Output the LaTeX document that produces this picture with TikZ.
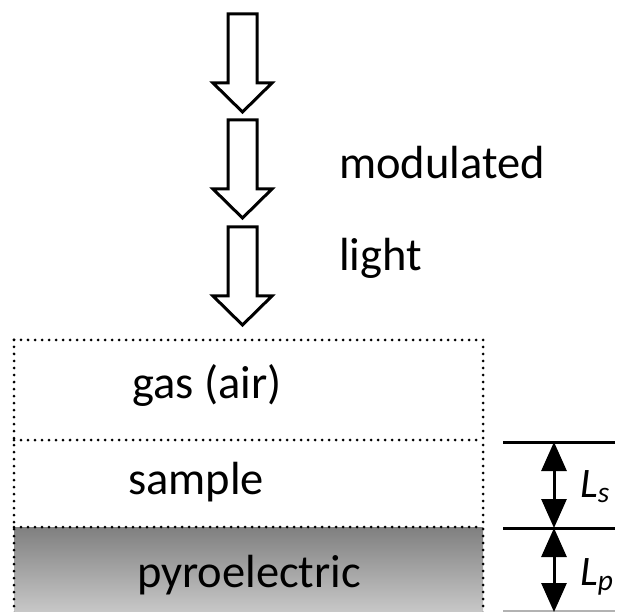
\documentclass[tikz,border=0pt]{standalone}
\usepackage{fontspec}
\setmainfont{Carlito}
\usetikzlibrary{arrows.meta}
\begin{document}
\begin{tikzpicture}[x=1pt,y=-1pt,
  blockarrow/.style={draw=black, line width=3pt, fill=white, line join=miter},
  layer/.style={draw=black, line width=3pt, line cap=round, dash pattern=on 0pt off 7pt},
  lbl/.style={font=\fontsize{46.5}{50}\selectfont, inner sep=0pt},
  dimlbl/.style={font=\fontsize{42}{46}\selectfont\itshape, inner sep=0pt, anchor=base west},
  dimline/.style={line width=3pt},
  dimarrow/.style={line width=3pt, {Triangle[length=29pt,width=25pt]}-{Triangle[length=29pt,width=25pt]}}]
\useasboundingbox (0,0) rectangle (624,612);
% block arrows
\foreach \t in {14,120,227}{
  \draw[blockarrow] (228,\t) -- (257,\t) -- (257,\t+69) -- (272,\t+69) -- (242.5,\t+98) -- (213,\t+69) -- (228,\t+69) -- cycle;
}
\node[lbl, anchor=west] (mod) at (339,163) {modulated};
\node[lbl, anchor=west] (light) at (339,258) {light};
% layers
\shade[top color=black!50, bottom color=black!21] (14,527) rectangle (483,614);
\draw[layer] (14,340) -- (483,340);
\draw[layer] (14,440) -- (483,440);
\draw[layer] (14,527) -- (483,527);
\draw[layer] (14,340) -- (14,614);
\draw[layer] (483,340) -- (483,614);
\node[lbl] (gas) at (207,385) {gas (air)};
\node[lbl] (sample) at (196,482) {sample};
\node[lbl] (pyro) at (249,575) {pyroelectric};
% dimensions
\coordinate (t1) at (554,442);
\coordinate (t2) at (554,528);
\coordinate (t3) at (554,612);
\draw[dimline] (503,442) -- (615,442);
\draw[dimline] (503,528) -- (615,528);
\draw[line width=2pt, black!30] (503,611) -- (615,611);
\draw[dimarrow] (t1) -- (t2);
\draw[dimarrow] (t2) -- (t3);
\node[dimlbl] (Ls) at (580,497) {L\textsubscript{s}};
\node[dimlbl] (Lp) at (580,585) {L\textsubscript{p}};
\end{tikzpicture}
\end{document}
